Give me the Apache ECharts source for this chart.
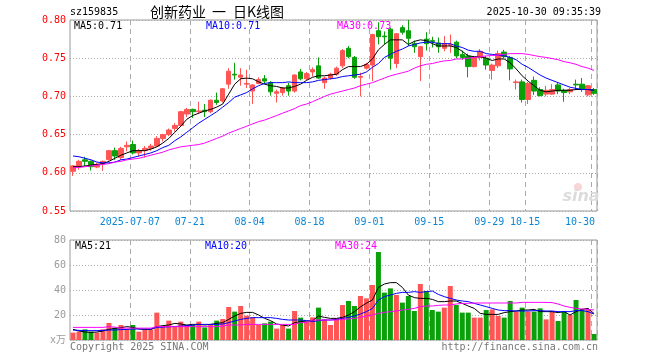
<!DOCTYPE html>
<html>
<head>
<meta charset="utf-8">
<script src="https://cdn.jsdelivr.net/npm/echarts@6/dist/echarts.min.js"></script>
<style>html,body{margin:0;padding:0;background:#fff}#c{width:660px;height:360px}</style>
</head>
<body>
<div id="c"></div>
<script>
// ---- categories (trading days) ----
const dates = ['06-23','06-24','06-25','06-26','06-27','06-30',
'07-01','07-02','07-03','07-04','07-07','07-08','07-09','07-10','07-11','07-14','07-15','07-16','07-17','07-18','07-21','07-22','07-23','07-24','07-25','07-28','07-29','07-30','07-31',
'08-01','08-04','08-05','08-06','08-07','08-08','08-11','08-12','08-13','08-14','08-15','08-18','08-19','08-20','08-21','08-22','08-25','08-26','08-27','08-28','08-29',
'09-01','09-02','09-03','09-04','09-05','09-08','09-09','09-10','09-11','09-12','09-15','09-16','09-17','09-18','09-19','09-22','09-23','09-24','09-25','09-26','09-29','09-30',
'10-09','10-10','10-13','10-14','10-15','10-16','10-17','10-20','10-21','10-22','10-23','10-24','10-27','10-28','10-29','10-30'];
const tickDates = ['07-07','07-21','08-04','08-18','09-01','09-15','09-29','10-15','10-30'];
const tickTexts = ['2025-07-07','07-21','08-04','08-18','09-01','09-15','09-29','10-15','10-30'];
const priceTicks = [0.55, 0.80, 0.05];
const volTicks = [0, 80, 20];

// ---- OHLC ----
const open = [0.602,0.609,0.617,0.615,0.6075,0.612,0.6175,0.629,0.620,0.634,
0.637,0.626,0.629,0.632,0.635,0.645,0.650,0.658,0.662,0.677,
0.683,0.680,0.682,0.680,0.695,0.694,0.716,0.729,0.725,0.716,
0.707,0.717,0.723,0.718,0.704,0.705,0.714,0.707,0.732,0.723,
0.732,0.740,0.718,0.724,0.729,0.740,0.763,0.751,0.725,0.737,
0.741,0.786,0.779,0.788,0.743,0.790,0.786,0.769,0.752,0.775,
0.773,0.770,0.763,0.767,0.771,0.755,0.753,0.739,0.751,0.750,
0.734,0.740,0.758,0.751,0.718,0.719,0.696,0.721,0.709,0.703,
0.703,0.715,0.708,0.706,0.716,0.716,0.702,0.709];
const close = [0.609,0.615,0.615,0.608,0.611,0.615,0.629,0.622,0.632,0.636,
0.626,0.629,0.632,0.635,0.645,0.650,0.656,0.662,0.680,0.683,
0.680,0.681,0.680,0.695,0.692,0.710,0.733,0.728,0.728,0.717,
0.715,0.722,0.720,0.706,0.706,0.711,0.707,0.728,0.723,0.730,
0.735,0.724,0.724,0.729,0.737,0.760,0.752,0.725,0.726,0.742,
0.781,0.778,0.778,0.750,0.782,0.784,0.776,0.765,0.765,0.769,
0.772,0.765,0.769,0.768,0.753,0.751,0.739,0.751,0.759,0.741,
0.741,0.756,0.752,0.736,0.719,0.696,0.717,0.707,0.701,0.708,
0.709,0.707,0.705,0.709,0.715,0.709,0.714,0.704];
const low = [0.596,0.604,0.609,0.603,0.606,0.6025,0.616,0.617,0.617,0.628,
0.624,0.621,0.620,0.629,0.634,0.641,0.648,0.654,0.660,0.673,
0.672,0.677,0.673,0.678,0.689,0.692,0.710,0.722,0.714,0.711,
0.690,0.716,0.716,0.701,0.692,0.701,0.701,0.705,0.721,0.721,
0.726,0.723,0.710,0.722,0.727,0.737,0.750,0.723,0.700,0.735,
0.720,0.768,0.768,0.735,0.737,0.781,0.766,0.757,0.720,0.760,
0.764,0.757,0.759,0.757,0.750,0.748,0.725,0.738,0.747,0.735,
0.722,0.737,0.750,0.721,0.709,0.692,0.690,0.702,0.700,0.700,
0.702,0.703,0.693,0.703,0.709,0.706,0.700,0.702];
const high = [0.610,0.617,0.621,0.616,0.613,0.616,0.630,0.633,0.634,0.641,
0.642,0.631,0.635,0.638,0.648,0.651,0.658,0.665,0.681,0.685,
0.684,0.693,0.690,0.696,0.705,0.711,0.737,0.744,0.737,0.735,
0.716,0.725,0.728,0.720,0.709,0.712,0.718,0.729,0.736,0.732,
0.738,0.751,0.726,0.731,0.739,0.762,0.766,0.753,0.731,0.744,
0.782,0.797,0.785,0.790,0.783,0.793,0.800,0.773,0.766,0.784,
0.778,0.777,0.779,0.781,0.773,0.760,0.756,0.753,0.762,0.753,
0.743,0.760,0.761,0.753,0.722,0.722,0.719,0.726,0.712,0.714,
0.716,0.718,0.710,0.711,0.722,0.724,0.715,0.711];

// ---- price moving averages ----
const ma5 = [0.608,0.608,0.609,0.610,0.611,0.612,0.615,0.619,0.623,0.626,
0.629,0.629,0.629,0.631,0.634,0.639,0.645,0.653,0.661,0.670,
0.675,0.678,0.681,0.683,0.686,0.690,0.703,0.716,0.723,0.724,
0.723,0.719,0.716,0.714,0.713,0.711,0.711,0.713,0.716,0.721,
0.725,0.727,0.727,0.728,0.729,0.735,0.739,0.739,0.739,0.742,
0.749,0.761,0.768,0.774,0.774,0.774,0.768,0.772,0.774,0.773,
0.769,0.766,0.766,0.766,0.764,0.759,0.753,0.752,0.752,0.750,
0.747,0.749,0.749,0.744,0.736,0.727,0.720,0.714,0.708,0.706,
0.707,0.708,0.708,0.708,0.709,0.709,0.709,0.708];
const ma10 = [0.622,0.621,0.619,0.617,0.614,0.613,0.613,0.614,0.617,0.618,
0.620,0.622,0.624,0.626,0.629,0.633,0.636,0.642,0.647,0.653,
0.659,0.665,0.670,0.675,0.680,0.686,0.692,0.699,0.702,0.705,
0.710,0.714,0.717,0.718,0.718,0.718,0.719,0.718,0.718,0.718,
0.719,0.721,0.722,0.723,0.724,0.726,0.727,0.728,0.729,0.732,
0.738,0.743,0.751,0.755,0.759,0.762,0.766,0.768,0.770,0.771,
0.771,0.769,0.769,0.769,0.766,0.764,0.7605,0.759,0.759,0.756,
0.755,0.754,0.753,0.751,0.748,0.742,0.738,0.733,0.728,0.724,
0.721,0.718,0.715,0.712,0.7105,0.709,0.709,0.708];
const ma30 = [0.6066,0.607,0.608,0.609,0.610,0.611,0.612,0.614,0.615,0.617,
0.618,0.619,0.621,0.623,0.625,0.627,0.630,0.632,0.634,0.635,
0.636,0.637,0.639,0.642,0.645,0.648,0.652,0.655,0.658,0.661,
0.664,0.667,0.669,0.672,0.675,0.678,0.681,0.684,0.688,0.690,
0.693,0.6965,0.700,0.703,0.705,0.707,0.709,0.711,0.714,0.716,
0.718,0.721,0.724,0.727,0.729,0.731,0.733,0.737,0.740,0.742,
0.743,0.745,0.7465,0.747,0.749,0.749,0.750,0.751,0.752,0.753,
0.7535,0.754,0.755,0.756,0.756,0.756,0.755,0.7535,0.752,0.751,
0.7495,0.748,0.7455,0.744,0.742,0.739,0.737,0.734];

// ---- volume (万) ----
const volume = [5.9,6.7,8.5,6.7,5.9,8.5,13.6,9.9,12,8.8,
12,6.7,8.5,8.5,21.9,10.7,15.5,10.7,14.7,12,
12,14.7,10.1,12,15.5,16.8,26.4,22.7,27.2,19.5,
18.1,12,13.3,14.7,9.1,12,9.1,23.2,17.9,14.7,
18.1,25.9,16.5,12,17.3,28,31.2,27.2,35.2,33.3,
44,70.4,37.9,41.3,36,29.9,35.2,23.2,44.8,39.2,
24,22.7,25.9,43.2,28,21.9,21.9,17.9,17.9,24,
24.5,19.2,17.9,31.2,22.7,25.9,22.7,22.7,25.3,16.5,
23.2,15.2,22.7,20,32,24.5,24.5,4.8];
const vma5 = [8.5,7.2,6.4,6.1,6.4,7.2,8.5,9.3,9.9,10.7,
10.1,8.8,8.5,8.5,10.7,11.5,12,13.3,12.8,12,
12.5,12.5,12,12.5,13.3,13.9,16.5,19.2,21.3,22.1,
22.1,20,17.3,15.5,12.8,12,11.2,13.9,14.7,15.2,
15.5,19.2,18.1,17.3,17.3,18.1,20,22.7,26.5,29.5,
32,42.1,44.8,45.9,45.9,42.1,36,33.9,33.3,33.3,
32.5,30.7,30.7,31.2,31.2,29.3,27.2,25.3,21.3,20.5,
20.5,20.5,21.9,22.7,23.2,24,24,24.5,22.7,22.7,
22.7,21.9,22.7,20,22.7,24.5,25.3,21.2];
const vma10 = [8,7.7,7.5,7.5,7.5,7.7,8,8,8.3,8.5,
8.8,8.8,8.8,8.8,10.1,10.3,10.6,10.8,11.2,11.5,
12,12.5,12.5,12.5,12.5,12.8,13.9,15.2,16.5,17.3,
17.9,17.9,17.9,17.9,17.3,16.5,16,16,16,15.5,
14.7,15.5,16,16,16.5,17.3,18.1,19.2,20.8,22.7,
25.3,32,34.7,36,37.3,38.1,38.1,38.7,38.1,38.7,
39.2,36.5,34.7,33.3,32,31.2,30.7,29.3,28,26.7,
25.3,24,23.5,23.5,23.2,23.2,23.2,23.5,23.5,23.2,
23.2,22.7,22.7,22.7,23.5,23.5,22.7,20.8];
const vma30 = [10.1,10.1,10.1,10.1,10.1,10.1,10.7,10.3,9.5,9.5,
9.5,9.5,9.5,9.5,10.7,10.7,10.7,10.7,10.7,10.7,
10.7,10.7,10.7,10.7,10.7,11.2,12,12,12,12.5,
12.5,12.5,12.5,12.5,12.5,12.5,12.5,12.5,13.9,13.9,
16,16,16,16,16,16.5,16.8,17.3,18.1,19.2,
20,21.3,22.1,22.7,23.2,24,24.5,25.3,26.7,27.2,
27.2,27.7,28,28,28.8,29.3,29.3,29.6,29.6,29.6,
29.6,29.6,29.6,29.6,29.6,30.1,30.1,30.1,30.1,30.1,
29.9,28.8,27.2,26.1,25.3,24.8,24.5,24];

const UP = '#ff5555', DOWN = '#0aa00a';
const MONO = '"DejaVu Sans Mono", "Liberation Mono", monospace';
const CJK = '"Noto Sans CJK SC", sans-serif';

const candleData = dates.map((d, i) => [open[i], close[i], low[i], high[i]]);
const volData = volume.map((v, i) => ({ value: v, itemStyle: { color: close[i] >= open[i] ? UP : DOWN } }));

const showTick = (idx, val) => tickDates.indexOf(val) >= 0;

function xAxisCfg(gi, labels) {
  return {
    type: 'category', gridIndex: gi, data: dates, boundaryGap: true,
    axisLine: { show: false }, axisTick: { show: false },
    axisLabel: labels ? {
      show: true, interval: showTick, margin: 6,
      formatter: (v) => {
        const k = tickDates.indexOf(v);
        if (k < 0) return '';
        return (k === tickDates.length - 1 ? '{e|' : '{c|') + tickTexts[k] + '}';
      },
      rich: {
        c: { color: '#0a86d6', fontFamily: MONO, fontSize: 10, padding: [0, 6, 0, 0] },
        e: { color: '#0a86d6', fontFamily: MONO, fontSize: 10, padding: [0, 28, 0, 0] }
      }
    } : { show: false },
    splitLine: { show: true, interval: showTick, lineStyle: { color: '#aaaaaa', width: 1, type: [5, 4] } }
  };
}

const chart = echarts.init(document.getElementById('c'), null, { renderer: 'canvas' });
const lineS = (name, data, color, xi, yi) => ({
  name, type: 'line', data, xAxisIndex: xi, yAxisIndex: yi, symbol: 'none', silent: true,
  lineStyle: { color, width: 1 }, z: 5
});
const txt = (x, y, text, fill, font, align) => ({
  type: 'text', x, y, z: 100,
  style: { text, fill, font, align: align || 'left', verticalAlign: 'middle' }
});

chart.setOption({
  animation: false,
  backgroundColor: '#ffffff',
  grid: [
    { left: 70, right: 63, top: 20, height: 191, show: true, borderColor: '#999999', borderWidth: 1, backgroundColor: 'transparent' },
    { left: 70, right: 63, top: 240, height: 100, show: true, borderColor: '#999999', borderWidth: 1, backgroundColor: 'transparent' }
  ],
  xAxis: [xAxisCfg(0, true), xAxisCfg(1, false)],
  yAxis: [
    { type: 'value', gridIndex: 0, min: priceTicks[0], max: priceTicks[1], interval: priceTicks[2],
      axisLine: { show: false }, axisTick: { show: false },
      axisLabel: { color: '#ff0000', fontFamily: MONO, fontSize: 10, margin: 4, formatter: (v) => v.toFixed(2) },
      splitLine: { lineStyle: { color: '#aaaaaa', type: [1, 2] } } },
    { type: 'value', gridIndex: 1, min: volTicks[0], max: volTicks[1], interval: volTicks[2],
      axisLine: { show: false }, axisTick: { show: false },
      axisLabel: { color: '#9a9a9a', fontFamily: MONO + ', ' + CJK, fontSize: 10, margin: 4,
        formatter: (v) => v === 0 ? 'x万' : String(v) },
      splitLine: { lineStyle: { color: '#aaaaaa', type: [1, 2] } } }
  ],
  series: [
    { type: 'candlestick', xAxisIndex: 0, yAxisIndex: 0, data: candleData, barWidth: 5, silent: true,
      itemStyle: { color: UP, color0: DOWN, borderColor: UP, borderColor0: DOWN, borderWidth: 1 }, z: 3 },
    lineS('MA5', ma5, '#000000', 0, 0),
    lineS('MA10', ma10, '#0000ff', 0, 0),
    lineS('MA30', ma30, '#ff00ff', 0, 0),
    { type: 'bar', xAxisIndex: 1, yAxisIndex: 1, data: volData, barWidth: 5, silent: true, z: 3 },
    lineS('VMA5', vma5, '#000000', 1, 1),
    lineS('VMA10', vma10, '#0000ff', 1, 1),
    lineS('VMA30', vma30, '#ff00ff', 1, 1)
  ],
  graphic: [
    { type: 'circle', z: 1, shape: { cx: 578, cy: 187, r: 4 }, style: { fill: '#f6d6d6' } },
    { type: 'text', x: 581, y: 197, z: 1, style: { text: 'sina', fill: '#dcdcdc', font: 'italic bold 16px "DejaVu Sans", sans-serif', align: 'center', verticalAlign: 'middle' } },
    txt(70, 12.5, 'sz159835', '#000000', '10px ' + MONO),
    txt(150, 12, '创新药业', '#000000', '14px ' + CJK),
    txt(212, 12, '一', '#000000', '14px ' + CJK),
    txt(233, 12, '日K线图', '#000000', '14px ' + CJK),
    txt(601, 12.5, '2025-10-30 09:35:39', '#000000', '10px ' + MONO, 'right'),
    txt(74, 26, 'MA5:0.71', '#000000', '10px ' + MONO),
    txt(206, 26, 'MA10:0.71', '#0000ff', '10px ' + MONO),
    txt(337, 26, 'MA30:0.73', '#ff00ff', '10px ' + MONO),
    txt(75, 246.5, 'MA5:21', '#000000', '10px ' + MONO),
    txt(205, 246.5, 'MA10:20', '#0000ff', '10px ' + MONO),
    txt(335, 246.5, 'MA30:24', '#ff00ff', '10px ' + MONO),
    txt(70, 347, 'Copyright 2025 SINA.COM', '#777777', '10px ' + MONO),
    txt(598, 347, 'http://finance.sina.com.cn', '#777777', '10px ' + MONO, 'right')
  ]
});
</script>
</body>
</html>
